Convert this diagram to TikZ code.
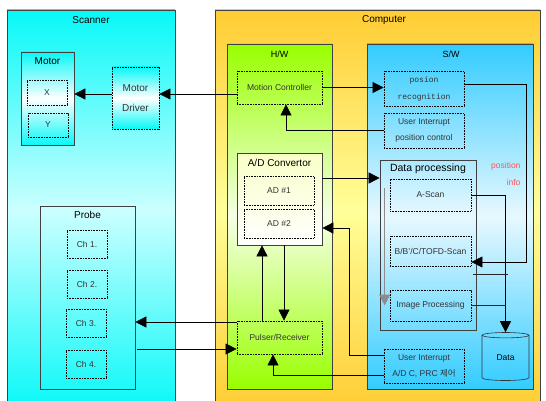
\documentclass[tikz,border=0pt]{standalone}
\usepackage{fontspec}
\setmainfont{Liberation Sans}
\newfontfamily\krfont{Noto Sans CJK KR}
\newfontfamily\monofont{Liberation Mono}
\usetikzlibrary{arrows.meta,shapes.geometric}
\definecolor{cyanA}{HTML}{08F8F8}
\definecolor{cyanB}{HTML}{CCFFFF}
\definecolor{orgA}{HTML}{FFCC33}
\definecolor{orgB}{HTML}{FFFF99}
\definecolor{grnA}{HTML}{99FF00}
\definecolor{grnB}{HTML}{F6FFE6}
\definecolor{bluA}{HTML}{33CCFF}
\definecolor{bluB}{HTML}{E8F8FF}
\definecolor{redtxt}{HTML}{FF5555}
\begin{document}
\begin{tikzpicture}[x=1pt, y=-1pt,
    box/.style={draw=black!75, line width=0.7pt, inner sep=0pt},
    dotbox/.style={draw=black, line width=0.8pt, dash pattern=on 0.8pt off 0.8pt,
      inner sep=0pt, align=center, text=black!80, font=\fontsize{8.5}{16}\selectfont},
    title/.style={font=\fontsize{10}{12}\selectfont},
    arr/.style={-{Triangle[length=11pt,width=11pt]}, line width=0.6pt, draw=black},
    ln/.style={line width=0.6pt, draw=black!85}]
\clip (0,0) rectangle (546,401);
% scanner side
\node[box, minimum width=168, minimum height=400, top color=cyanA, bottom color=cyanA, middle color=cyanB] (scan) at (91,210) {};
\node[title] (scanT) at (91,20) {Scanner};
\node[box, minimum width=53, minimum height=93, top color=cyanA, bottom color=cyanA, middle color=white] (motor) at (47.5,98.5) {};
\node[title] (motorT) at (47.5,61) {Motor};
\node[dotbox, minimum width=40, minimum height=25] (mx) at (47,92.5) {X};
\node[dotbox, minimum width=40, minimum height=24] (my) at (48,125) {Y};
\node[dotbox, minimum width=47, minimum height=62, top color=cyanA, bottom color=cyanA, middle color=white,
  font=\fontsize{10}{20}\selectfont] (driver) at (135.5,98) {Motor\\Driver};
\node[box, minimum width=95, minimum height=183] (probe) at (87.5,297.5) {};
\node[title] (probeT) at (87.5,215) {Probe};
\node[dotbox, minimum width=40, minimum height=28] (ch1) at (87,244) {Ch 1.};
\node[dotbox, minimum width=40, minimum height=28] (ch2) at (87,284) {Ch 2.};
\node[dotbox, minimum width=40, minimum height=28] (ch3) at (86,323) {Ch 3.};
\node[dotbox, minimum width=40, minimum height=28] (ch4) at (86,364) {Ch 4.};
% computer side
\node[box, minimum width=325, minimum height=400, top color=orgA, bottom color=orgA, middle color=orgB] (comp) at (377.5,210) {};
\node[title] (compT) at (384,20) {Computer};
\node[box, minimum width=105, minimum height=345, top color=grnA, bottom color=grnA, middle color=grnB] (hw) at (279.5,216.5) {};
\node[title, font=\fontsize{9}{11}\selectfont] (hwT) at (279.5,54) {H/W};
\node[box, minimum width=166, minimum height=345, top color=bluA, bottom color=bluA, middle color=bluB] (sw) at (450,216.5) {};
\node[title, font=\fontsize{9}{11}\selectfont] (swT) at (451,54) {S/W};
\node[dotbox, minimum width=85, minimum height=33] (motion) at (279.5,87.5) {Motion Controller};
\node[box, minimum width=85, minimum height=92, top color=grnB!60!orgB, bottom color=white] (adc) at (279.5,199) {};
\node[title] (adcT) at (279.5,163) {A/D Convertor};
\node[dotbox, minimum width=70, minimum height=29] (ad1) at (279,190.5) {AD \#1};
\node[dotbox, minimum width=70, minimum height=29] (ad2) at (279,223.5) {AD \#2};
\node[dotbox, minimum width=85, minimum height=33] (pulser) at (279.5,337.5) {Pulser/Receiver};
\node[dotbox, minimum width=80, minimum height=35, font=\monofont\fontsize{8}{17}\selectfont] (posrec) at (424,88.5) {posion\\recognition};
\node[dotbox, minimum width=80, minimum height=35] (uipos) at (424,130.5) {User Interrupt\\position control};
\node[box, minimum width=96, minimum height=170] (dproc) at (428,245) {};
\node[title, font=\fontsize{10.5}{12}\selectfont] (dprocT) at (428,169) {Data processing};
\node[dotbox, minimum width=81, minimum height=32] (ascan) at (430.5,195) {A-Scan};
\node[dotbox, minimum width=81, minimum height=30] (bscan) at (430.5,251) {B/B'/C/TOFD-Scan};
\node[dotbox, minimum width=81, minimum height=31] (improc) at (430.5,305.5) {Image Processing};
\node[draw=black!80, line width=0.6pt, cylinder, shape border rotate=90, aspect=0.3,
  minimum width=47, minimum height=48, inner sep=0pt, font=\fontsize{8.5}{10}\selectfont] (data) at (505.5,358) {Data};
\node[dotbox, minimum width=80, minimum height=34] (uiad) at (424,366) {User Interrupt\\A/D C, PRC {\krfont 제어}};
\node[text=redtxt, align=right, font=\fontsize{8.5}{17}\selectfont, anchor=east] (posinfo) at (524,173.5) {position\\info};
% connectors
\draw[arr] ([yshift=-6.5pt]motion.west) -- ([yshift=-6.5pt]motion.west -| driver.east);
\draw[arr] ([yshift=4pt]driver.west) -- ([yshift=4pt]driver.west -| motor.east);
\draw[arr] (motion.east) -- (motion.east -| posrec.west);
\draw[arr] (uipos.west) -| ([xshift=6.5pt]motion.south);
\draw[arr] ([yshift=21pt]adc.east) -- ([yshift=21pt]adc.east -| dproc.west);
\draw[arr] ([xshift=-17.5pt]pulser.north) -- ([xshift=-17.5pt]pulser.north |- adc.south);
\draw[arr] ([xshift=4.5pt]adc.south) -- ([xshift=4.5pt]adc.south |- pulser.north);
\draw[arr] ([yshift=15.5pt]pulser.west) -- ([yshift=15.5pt]pulser.west -| probe.east);
\draw[arr] ([xshift=2pt,yshift=-11.5pt]probe.east |- pulser.west) -- ([yshift=-11.5pt]pulser.west);
\draw[arr] ([yshift=4.5pt]posrec.east) -- ++(62,0) |- ([yshift=-11pt]bscan.east);
\draw[arr] (ascan.east) -| (data.north);
\draw[ln] ([shift={(2pt,-8pt)}]bscan.south east) -- ([shift={(2pt,-8pt)}]bscan.south east -| data.north);
\draw[ln] (improc.east) -- (improc.east -| data.north);
\draw[arr, draw=black!45, line width=1pt] ([xshift=5pt]dproc.west |- 0,188) -- ([xshift=5pt]dproc.west |- improc.west);
\draw[arr] ([yshift=11pt]uiad.west) -| ([xshift=27pt,yshift=-29pt]adc.east) -- ([yshift=-29pt]adc.east);
\draw[arr] ([yshift=-9pt]uiad.west) -| ([xshift=-6.5pt]pulser.south);
\end{tikzpicture}
\end{document}
